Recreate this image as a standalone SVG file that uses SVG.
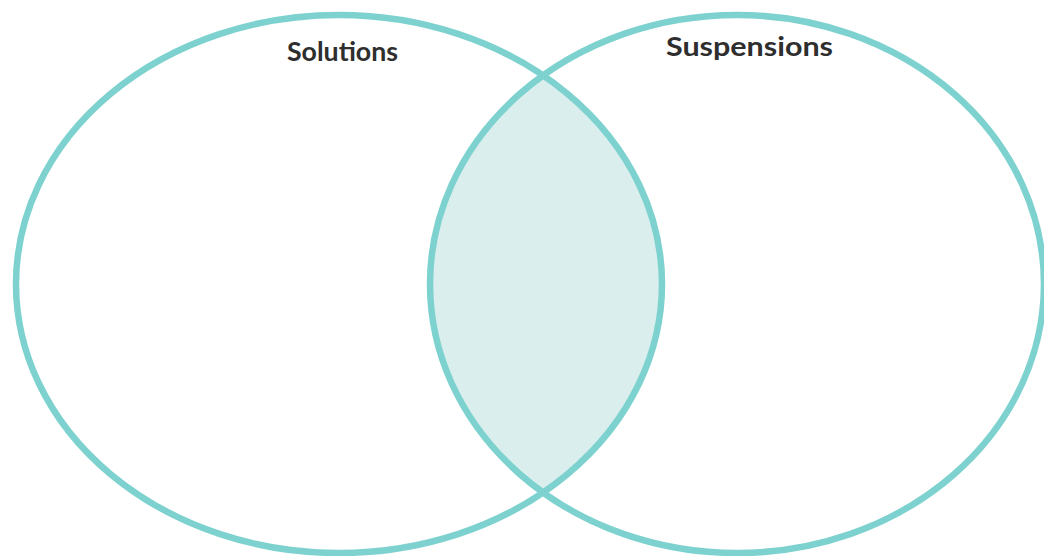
<svg xmlns="http://www.w3.org/2000/svg" width="1044" height="556" viewBox="0 0 1044 556">
  <style>
    .ring { fill: none; stroke: #7dd2cf; stroke-width: 6.5; }
    .label { font-family: "Lato", "Liberation Sans", sans-serif; font-weight: bold; fill: #2e2e2e; }
  </style>
  <defs>
    <clipPath id="leftClip">
      <ellipse cx="339" cy="284" rx="323" ry="269"/>
    </clipPath>
  </defs>
  <rect width="1044" height="556" fill="#ffffff"/>

  <!-- shared region of the two sets -->
  <g id="overlap">
    <ellipse cx="737" cy="284" rx="307" ry="269" fill="#d9eeed" clip-path="url(#leftClip)"/>
  </g>

  <g id="solutions">
    <ellipse class="ring" cx="339" cy="284" rx="323" ry="269"/>
    <text class="label" x="287" y="61" font-size="26" textLength="111" lengthAdjust="spacingAndGlyphs">Solutions</text>
  </g>

  <g id="suspensions">
    <ellipse class="ring" cx="737" cy="284" rx="307" ry="269"/>
    <text class="label" x="666" y="56" font-size="26" textLength="167" lengthAdjust="spacingAndGlyphs">Suspensions</text>
  </g>
</svg>
